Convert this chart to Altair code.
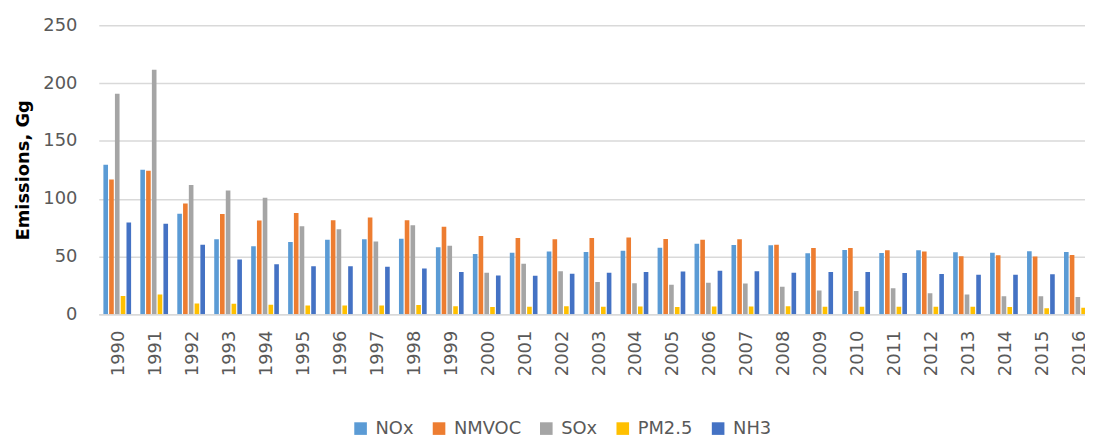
import altair as alt
import pandas as pd

years = [str(y) for y in range(1990, 2017)]
series = ["NOx", "NMVOC", "SOx", "PM2.5", "NH3"]
colors = ["#5B9BD5", "#ED7D31", "#A5A5A5", "#FFC000", "#4472C4"]
y_ticks = [0, 50, 100, 150, 200, 250]

nox = [129.4, 125.1, 87.1, 64.9, 58.9, 62.6, 64.6, 64.9, 65.4, 58.0, 52.3, 53.4, 54.3, 54.0,
       55.1, 57.7, 61.1, 60.0, 59.7, 52.9, 55.7, 53.1, 55.4, 53.7, 53.4, 54.6, 54.0]
nmvoc = [116.6, 124.3, 96.0, 86.9, 81.1, 87.7, 81.4, 83.7, 81.4, 75.7, 67.7, 66.0, 64.9, 66.0,
         66.6, 65.1, 64.6, 64.9, 60.3, 57.4, 57.4, 55.4, 54.3, 50.3, 51.1, 50.0, 51.4]
sox = [190.9, 211.7, 112.0, 107.1, 100.9, 76.3, 73.7, 63.1, 77.1, 59.4, 36.0, 43.7, 37.4, 28.0,
       26.9, 25.7, 27.4, 26.8, 24.0, 20.6, 20.3, 22.6, 18.3, 17.1, 15.7, 15.7, 15.1]
pm25 = [16.0, 17.1, 9.4, 9.1, 8.3, 7.7, 7.7, 7.7, 8.0, 7.1, 6.3, 6.6, 7.1, 6.6,
        6.9, 6.3, 6.9, 6.9, 7.1, 6.6, 6.6, 6.6, 6.6, 6.6, 6.3, 5.4, 5.7]
nh3 = [79.4, 78.3, 60.3, 47.4, 43.4, 41.7, 41.7, 41.1, 39.7, 36.6, 33.7, 33.4, 35.1, 36.0,
       36.6, 37.1, 37.7, 37.4, 36.0, 36.6, 36.6, 35.7, 34.9, 34.3, 34.3, 34.6, 34.0]

rows = []
for name, vals in zip(series, [nox, nmvoc, sox, pm25, nh3]):
    for yr, v in zip(years, vals):
        rows.append({"Year": yr, "Pollutant": name, "Emissions": v})
df = pd.DataFrame(rows)

FONT = "DejaVu Sans"

chart = alt.Chart(df).mark_bar(clip=True).encode(
    x=alt.X(
        "Year:N",
        sort=years,
        scale=alt.Scale(domain=years, paddingInner=0.25, paddingOuter=0.125),
        axis=alt.Axis(
            title=None, labelAngle=270, labelAlign="right", labelBaseline="middle",
            labelPadding=16, labelOffset=2, ticks=False, grid=False, labelOverlap=False,
            domainColor="#D9D9D9", domainWidth=1.5,
            labelFont=FONT, labelFontSize=18, labelColor="#595959",
        ),
    ),
    xOffset=alt.XOffset(
        "Pollutant:N", sort=series,
        scale=alt.Scale(domain=series, paddingInner=0.2, paddingOuter=0),
    ),
    y=alt.Y(
        "Emissions:Q",
        scale=alt.Scale(domain=[0, 250], nice=False),
        axis=alt.Axis(
            values=y_ticks, title="Emissions, Gg", domain=False, ticks=False,
            grid=True, gridColor="#D9D9D9", gridWidth=1.5,
            labelPadding=22, labelFont=FONT, labelFontSize=18, labelColor="#595959",
            titleFont=FONT, titleFontSize=18, titleFontWeight="bold", titleColor="#000000",
            titleX=-76, titleY=145.5, titleAngle=270, titleAlign="center", titleBaseline="middle",
        ),
    ),
    color=alt.Color(
        "Pollutant:N",
        scale=alt.Scale(domain=series, range=colors),
        legend=alt.Legend(
            orient="none", legendX=254.6, legendY=397, direction="horizontal",
            title=None, symbolType="square", symbolSize=161, symbolStrokeWidth=0,
            symbolOpacity=1, labelFont=FONT, labelFontSize=18, labelColor="#595959",
            labelOffset=6, columnPadding=16, padding=0,
        ),
    ),
).properties(
    width=1004.4,
    height=291,
    autosize=alt.AutoSizeParams(type="none"),
    padding={"left": 91.4, "top": 16, "right": -11.4, "bottom": 123},
).configure_view(stroke=None)

chart.save("out.html", embed_options={"renderer": "svg", "actions": False})
